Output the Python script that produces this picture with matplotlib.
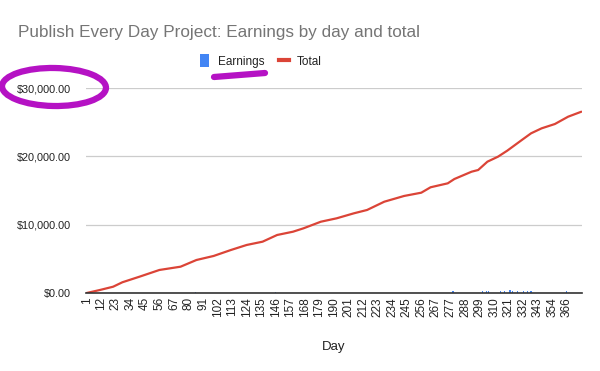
import numpy as np
import matplotlib
matplotlib.use("Agg")
import matplotlib.pyplot as plt
from matplotlib import font_manager
from matplotlib.patches import Patch, Ellipse
from matplotlib.lines import Line2D

plt.rcParams['font.family'] = ['Liberation Sans', 'DejaVu Sans']
names = {f.name for f in font_manager.fontManager.ttflist}
NARROW = 'Liberation Sans Narrow' if 'Liberation Sans Narrow' in names else None

# ---- data ----
title = "Publish Every Day Project: Earnings by day and total"
n_days = 375
sample_day = [1, 11, 21, 28, 41, 56, 72, 84, 97, 110, 122, 134, 145, 157, 165,
              178, 190, 203, 213, 226, 241, 254, 261, 274, 279, 292, 297, 304,
              312, 319, 330, 337, 345, 355, 365, 375]
total = [0, 440, 920, 1570, 2390, 3370, 3850, 4830, 5420, 6290, 7030, 7510,
         8490, 8970, 9470, 10430, 10930, 11660, 12150, 13360, 14200, 14680,
         15470, 16050, 16680, 17750, 18000, 19220, 19950, 20830, 22390, 23370,
         24100, 24730, 25800, 26530]
earn_day = [83, 144, 278, 300, 303, 305, 314, 317, 321, 323, 327, 331, 334, 337, 364]
earnings = [200, 200, 250, 300, 350, 300, 350, 300, 400, 350, 300, 350, 300, 250, 250]
tick_labels = ["1", "12", "23", "34", "45", "56", "67", "80", "91", "102", "113",
               "124", "135", "146", "157", "168", "179", "190", "201", "212",
               "223", "234", "245", "256", "267", "277", "288", "299", "310",
               "321", "332", "343", "354", "366"]
y_ticks = [0, 10000, 20000, 30000]

BLUE = "#4285f4"
RED = "#db4437"

if NARROW:
    narrow = [NARROW, 'Liberation Sans', 'DejaVu Sans']
    title_fs, ytick_fs, leg_fs = 15.0, 9.3, 9.5
else:
    narrow = ['Liberation Sans', 'DejaVu Sans']
    title_fs, ytick_fs, leg_fs = 12.3, 7.8, 8.5

fig = plt.figure(figsize=(6.0, 3.71), dpi=100)
ax = fig.add_axes([86 / 600, 1 - 293 / 371, (582 - 86) / 600, (293 - 88) / 371])

ax.bar(np.array(earn_day) - 1, earnings, width=0.9, color=BLUE, zorder=2)
ax.plot(np.array(sample_day) - 1, total, color=RED, lw=1.6, zorder=3,
        solid_joinstyle='round', solid_capstyle='round')

ax.set_xlim(-0.5, n_days - 0.5)
ax.set_ylim(0, 30000)
ax.set_yticks(y_ticks)
ax.set_yticklabels([f"${v:,.2f}" for v in y_ticks], fontsize=ytick_fs,
                   color="#222222", family=narrow)
ax.set_xticks(np.arange(len(tick_labels)) * 11)
ax.set_xticklabels(tick_labels, rotation=90, fontsize=8.5, color="#222222",
                   va='top', ha='center')
ax.tick_params(axis='y', length=0, pad=11)
ax.tick_params(axis='x', length=0, pad=3)
ax.grid(axis='y', color="#cccccc", lw=0.9, zorder=0)
ax.set_axisbelow(True)
for s in ['top', 'right', 'left']:
    ax.spines[s].set_visible(False)
ax.spines['bottom'].set_color("#333333")
ax.spines['bottom'].set_linewidth(1.2)
ax.spines['bottom'].set_zorder(4)

ax.set_xlabel("Day", fontsize=9.5, color="#222222", labelpad=17, family=narrow)

fig.text(18 / 600, 1 - 32 / 371, title, fontsize=title_fs, color="#757575",
         va='center', ha='left', family=narrow)

handles = [Patch(facecolor=BLUE, edgecolor='none'),
           Line2D([0], [0], color=RED, lw=3)]
fig.legend(handles, ["Earnings", "Total"], loc='center',
           bbox_to_anchor=(261 / 600, 1 - 61 / 371), ncol=2, frameon=False,
           prop={'family': narrow, 'size': leg_fs},
           handlelength=0.8, handleheight=1.3, handletextpad=0.7,
           columnspacing=1.3, labelcolor="#222222")

# hand-drawn purple annotations
PURP = "#b512c4"
fig.add_artist(Ellipse((54 / 600, 1 - 87 / 371), 104 / 600, 38 / 371,
                       transform=fig.transFigure, fill=False, edgecolor=PURP,
                       lw=4.5, angle=-2))
fig.add_artist(Line2D([214 / 600, 265 / 600], [1 - 77 / 371, 1 - 73 / 371],
                      transform=fig.transFigure, color=PURP, lw=4.5,
                      solid_capstyle='round'))

fig.savefig("out.png", dpi=100)
